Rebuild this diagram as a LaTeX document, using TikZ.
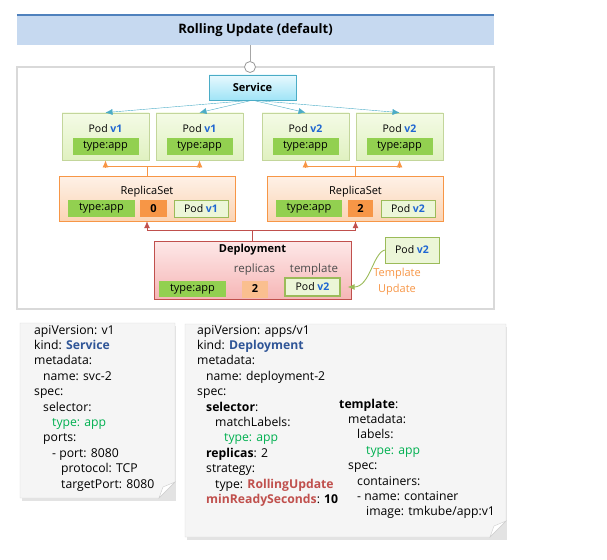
\documentclass[tikz,border=0pt]{standalone}
\usepackage{fontspec}
\setmainfont{Open Sans}
\usetikzlibrary{arrows.meta}

\definecolor{titlefill}{RGB}{198,217,240}
\definecolor{titleline}{RGB}{79,129,189}
\definecolor{framegray}{RGB}{217,217,217}
\definecolor{svcline}{RGB}{75,172,198}
\definecolor{svctop}{RGB}{232,249,254}
\definecolor{svcbot}{RGB}{160,228,247}
\definecolor{podtop}{RGB}{244,251,230}
\definecolor{podbot}{RGB}{224,241,192}
\definecolor{podline}{RGB}{195,214,155}
\definecolor{labelgreen}{RGB}{146,208,80}
\definecolor{vblue}{RGB}{31,102,210}
\definecolor{rsline}{RGB}{247,150,70}
\definecolor{rstop}{RGB}{254,241,231}
\definecolor{rsbot}{RGB}{251,212,180}
\definecolor{depline}{RGB}{192,80,77}
\definecolor{deptop}{RGB}{253,232,232}
\definecolor{depbot}{RGB}{246,182,182}
\definecolor{salmon}{RGB}{250,191,143}
\definecolor{podsmall}{RGB}{236,246,216}
\definecolor{podgreen}{RGB}{155,187,89}
\definecolor{notefill}{RGB}{245,245,245}
\definecolor{kindblue}{RGB}{47,85,151}
\definecolor{yamlgreen}{RGB}{0,176,80}
\definecolor{yamlred}{RGB}{192,80,77}

\newcommand{\ver}[1]{\textcolor{vblue}{\bfseries #1}}
\newcommand{\kindval}[1]{\textcolor{kindblue}{\bfseries #1}}
\newcommand{\greenval}[1]{\textcolor{yamlgreen}{#1}}
\newcommand{\redkey}[1]{\textcolor{yamlred}{\bfseries #1}}
% paper note with a folded corner: x1 y1 x2 y2
\newcommand{\notepaper}[4]{%
  \fill[gray!22] (#1+2,#2+3) -- (#3+1,#2+3) -- (#3+1,#4+3) -- (#1+2,#4+3) -- cycle;
  \filldraw[fill=notefill,draw=gray!30] (#1,#2) -- (#3,#2) -- (#3,#4-16) -- (#3-16,#4) -- (#1,#4) -- cycle;
  \filldraw[fill=white,draw=gray!40] (#3,#4-16) -- (#3-12,#4-11) -- (#3-16,#4) -- cycle;}

\tikzset{
  every node/.style={inner sep=0pt},
  titlebar/.style={fill=titlefill, minimum width=477pt, minimum height=30pt,
    font=\fontsize{13}{15}\selectfont\bfseries},
  svcbox/.style={draw=svcline, top color=svctop, bottom color=svcbot,
    minimum width=87pt, minimum height=25pt, font=\fontsize{11}{12}\selectfont\bfseries},
  podbox/.style={draw=podline, line width=0.8pt, top color=podtop, bottom color=podbot,
    minimum width=87pt, minimum height=47pt},
  podtext/.style={font=\fontsize{10.5}{12}\selectfont},
  typelabel/.style={fill=labelgreen, minimum width=66pt, minimum height=17pt,
    font=\fontsize{11}{12}\selectfont},
  rsbox/.style={draw=rsline, top color=rstop, bottom color=rsbot,
    minimum width=176pt, minimum height=45pt},
  countbox/.style={fill=rsline, minimum width=26pt, minimum height=17pt,
    font=\fontsize{11}{12}\selectfont\bfseries},
  smallpod/.style={draw=podgreen, fill=podsmall, minimum width=54pt, minimum height=17pt,
    font=\fontsize{10.5}{12}\selectfont},
  depbox/.style={draw=depline, top color=deptop, bottom color=depbot,
    minimum width=197pt, minimum height=58pt},
  deptext/.style={text=black!70, font=\fontsize{11.5}{12}\selectfont},
  yaml/.style={anchor=base west, font=\fontsize{12.2}{15}\selectfont},
  svcarrow/.style={draw=svcline, ->},
  rsarrow/.style={draw=rsline, line width=0.8pt, ->},
  deparrow/.style={draw=depline, line width=0.8pt, ->},
  tplarrow/.style={draw=podgreen, line width=0.9pt, ->, shorten >=7pt},
}

\begin{document}
\begin{tikzpicture}[x=1pt, y=-1pt, >={Latex[length=7pt,width=6pt]}]
  \useasboundingbox (0,0) rectangle (607,559);

  % title and frame
  \node[titlebar] (title) at (255.5,30) {Rolling Update (default)};
  \draw[titleline, line width=2pt] (title.north west) -- (title.north east);
  \draw[framegray, line width=2pt] (17,67) rectangle (494,309);
  \node[circle, draw=gray!80, fill=white, line width=0.8pt, minimum size=11pt] (joint) at (250,67) {};
  \draw[gray!70] (joint |- title.south) -- (joint.north);

  % service and pods
  \node[svcbox] (svc) at (252.5,87.5) {Service};
  \foreach \i/\x/\v in {1/105.5/v1, 2/199.5/v1, 3/305.5/v2, 4/399.5/v2} {
    \node[podbox] (pod\i) at (\x,136.5) {};
    \node[podtext] (podt\i) at (\x,129) {Pod \ver{\v}};
    \node[typelabel] (podl\i) at (\x,146.5) {type:app};
    \draw[svcarrow] (svc.south) -- (pod\i.north);
  }

  % replicasets
  \node[rsbox] (rs1) at (147,198.5) {};
  \node[podtext, font=\fontsize{11}{12}\selectfont] (rst1) at (147,192) {ReplicaSet};
  \node[typelabel, minimum width=67pt] (rsl1) at (101.5,208.5) {type:app};
  \node[countbox, minimum width=27pt] (rsc1) at (153.5,208.5) {0};
  \node[smallpod] (rsp1) at (201,208.5) {Pod \ver{v1}};
  \node[rsbox] (rs2) at (355.5,198.5) {};
  \node[podtext, font=\fontsize{11}{12}\selectfont] (rst2) at (355.5,192) {ReplicaSet};
  \node[typelabel] (rsl2) at (309,208.5) {type:app};
  \node[countbox, minimum width=25pt] (rsc2) at (360.5,208.5) {2};
  \node[smallpod] (rsp2) at (408,208.5) {Pod \ver{v2}};
  \draw[rsarrow] (rs1.north) -- ++(0,-9) -| (pod1.south);
  \draw[rsarrow] (rs1.north) -- ++(0,-9) -| (pod2.south);
  \draw[rsarrow] (rs2.north) -- ++(0,-9) -| (pod3.south);
  \draw[rsarrow] (rs2.north) -- ++(0,-9) -| (pod4.south);

  % deployment
  \node[depbox] (dep) at (252.5,270) {};
  \node[font=\fontsize{11}{12}\selectfont\bfseries] (dept) at (252.5,250) {Deployment};
  \node[deptext] (depr) at (254.5,270) {replicas};
  \node[deptext] (depm) at (314,270) {template};
  \node[typelabel, minimum width=67pt, minimum height=16pt] (depl) at (192.5,289) {type:app};
  \node[countbox, fill=salmon] (depc) at (255,289) {2};
  \node[smallpod, line width=1.2pt, minimum width=55pt, minimum height=18pt] (depp) at (312.5,287) {Pod \ver{v2}};
  \draw[deparrow] (dep.north) -- ++(0,-10) -| (rs1.south);
  \draw[deparrow] (dep.north) -- ++(0,-10) -| (rs2.south);

  % template update
  \node[smallpod, minimum height=26pt] (newpod) at (412,250) {Pod \ver{v2}};
  \draw[tplarrow] (newpod.west) .. controls (373,253) and (370,287) .. (depp.east);
  \node[align=center, text=rsline, font=\fontsize{11}{16}\selectfont] (tplu) at (397,282) {Template\\Update};

  % yaml notes
  \notepaper{20}{323}{175}{498}
  \notepaper{185}{324}{506}{537}
  \foreach \lv/\tx [count=\i] in {0/{apiVersion: v1}, 0/{kind: \kindval{Service}}, 0/{metadata:},
      1/{name: svc-2}, 0/{spec:}, 1/{selector:}, 2/{\greenval{type: app}}, 1/{ports:},
      2/{- port: 8080}, 3/{protocol: TCP}, 3/{targetPort: 8080}}
    \node[yaml] (svy\i) at ({34+9*\lv},{334+15.4*(\i-1)}) {\tx};
  \foreach \lv/\tx [count=\i] in {0/{apiVersion: apps/v1}, 0/{kind: \kindval{Deployment}}, 0/{metadata:},
      1/{name: deployment-2}, 0/{spec:}, 1/{\textbf{selector}:}, 2/{matchLabels:},
      3/{\greenval{type: app}}, 1/{\textbf{replicas}: 2}, 1/{strategy:},
      2/{type: \redkey{RollingUpdate}}, 1/{\redkey{minReadySeconds}: \textbf{10}}}
    \node[yaml] (dpy\i) at ({197+9*\lv},{334+15.4*(\i-1)}) {\tx};
  \foreach \lv/\tx [count=\i] in {0/{\textbf{template}:}, 1/{metadata:}, 2/{labels:},
      3/{\greenval{type: app}}, 1/{spec:}, 2/{containers:}, 2/{- name: container},
      3/{image: tmkube/app:v1}}
    \node[yaml] (tpy\i) at ({339+9*\lv},{408+15.4*(\i-1)}) {\tx};
\end{tikzpicture}
\end{document}
